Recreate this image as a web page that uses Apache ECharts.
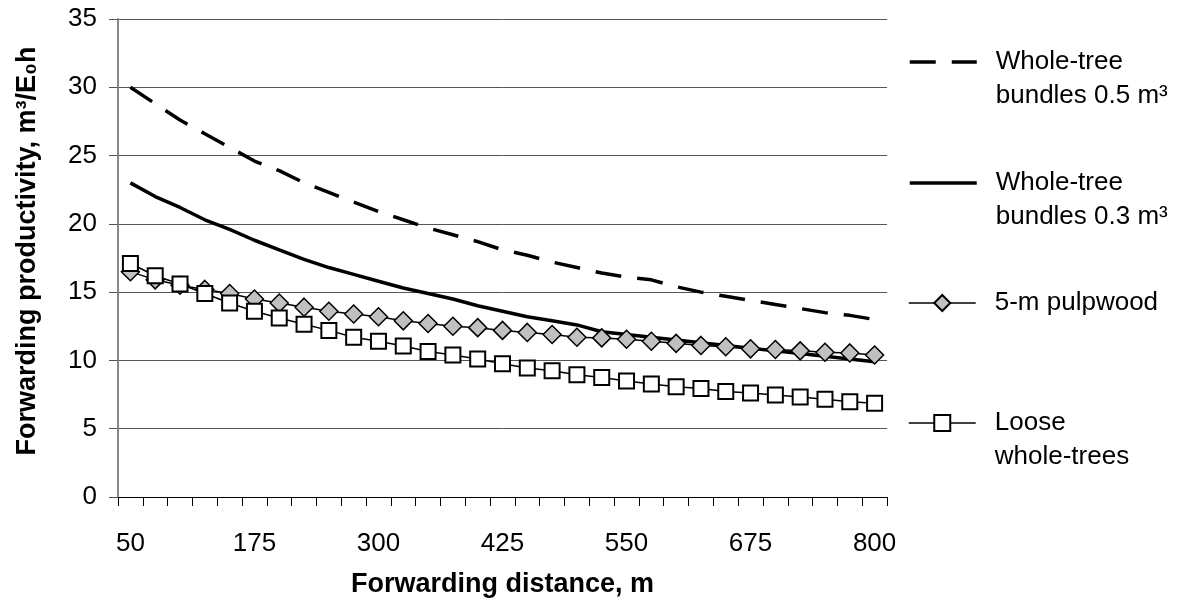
<!DOCTYPE html>
<html>
<head>
<meta charset="utf-8">
<script src="https://cdn.jsdelivr.net/npm/echarts@6/dist/echarts.min.js"></script>
<style>
html,body{margin:0;padding:0;background:#fff;}
#chart{width:1185px;height:608px;}
</style>
</head>
<body>
<div id="chart"></div>
<script>
var distances = ['50','75','100','125','150','175','200','225','250','275','300','325','350','375','400','425','450','475','500','525','550','575','600','625','650','675','700','725','750','775','800'];
var bundles05 = [30.0,28.8,27.6,26.6,25.6,24.6,23.9,23.0,22.3,21.6,20.9,20.3,19.7,19.2,18.7,18.1,17.7,17.2,16.8,16.4,16.1,15.9,15.4,15.0,14.7,14.4,14.1,13.8,13.5,13.3,13.0];
var bundles03 = [23.0,22.0,21.2,20.3,19.6,18.8,18.1,17.4,16.8,16.3,15.8,15.3,14.9,14.5,14.0,13.6,13.2,12.9,12.6,12.1,11.9,11.7,11.5,11.3,11.1,10.9,10.7,10.5,10.3,10.1,9.9];
var pulpwood = [16.5,15.9,15.5,15.2,14.9,14.5,14.2,13.9,13.6,13.4,13.2,12.9,12.7,12.5,12.4,12.2,12.05,11.9,11.7,11.65,11.55,11.4,11.25,11.1,11.0,10.85,10.8,10.7,10.6,10.55,10.4];
var looseTrees = [17.1,16.2,15.6,14.9,14.2,13.6,13.1,12.65,12.2,11.7,11.4,11.05,10.65,10.4,10.1,9.75,9.45,9.25,8.95,8.75,8.5,8.27,8.07,7.95,7.72,7.62,7.47,7.33,7.15,6.98,6.86];
var seriesNames = ['Whole-tree bundles 0.5 m³','Whole-tree bundles 0.3 m³','5-m pulpwood','Loose whole-trees'];
var legendTexts = ['\nWhole-tree\nbundles 0.5 m³','\nWhole-tree\nbundles 0.3 m³','5-m pulpwood','\nLoose\nwhole-trees'];
var xTitle = 'Forwarding distance, m';
var yTitle = 'Forwarding productivity, m³/E₀h';

var FONT = "'Liberation Sans', Arial, sans-serif";
var DASH = [26, 16];
var chart = echarts.init(document.getElementById('chart'), null, {renderer:'canvas'});

function legendFor(i, top, lineStyle, hideSymbol){
  var l = {
    left: 908, top: top, padding: 0, orient: 'vertical',
    itemWidth: 67, itemHeight: 20,
    data: [seriesNames[i]],
    formatter: function(){ return legendTexts[i]; },
    textStyle: {fontFamily: FONT, fontSize: 26, color: '#000', lineHeight: 34, padding: [0,0,0,14]},
    lineStyle: lineStyle,
    selectedMode: false
  };
  if (hideSymbol) l.itemStyle = {color: 'rgba(0,0,0,0)', borderWidth: 0, opacity: 0};
  return l;
}

var option = {
  animation: false,
  backgroundColor: '#fff',
  grid: {left: 118, right: 298, top: 19, bottom: 111},
  legend: [
    legendFor(0, 11, {width: 3.5, type: DASH, color: '#000'}, true),
    legendFor(1, 132, {width: 3.5, type: 'solid', color: '#000'}, true),
    legendFor(2, 286, {width: 1.5, color: '#000'}, false),
    legendFor(3, 372, {width: 1.5, color: '#000'}, false)
  ],
  xAxis: {
    type: 'category',
    data: distances,
    boundaryGap: true,
    name: xTitle,
    nameLocation: 'middle',
    nameGap: 74,
    nameTextStyle: {fontFamily: FONT, fontSize: 27, fontWeight: 'bold', color: '#000'},
    axisLine: {lineStyle: {color: '#000', width: 1}},
    axisTick: {show: true, interval: 0, length: 9, lineStyle: {color: '#000'}},
    axisLabel: {interval: 4, margin: 34, fontFamily: FONT, fontSize: 26, color: '#000'},
    splitLine: {show: false}
  },
  yAxis: {
    type: 'value',
    min: 0, max: 35, interval: 5,
    name: yTitle,
    nameLocation: 'middle',
    nameGap: 77,
    nameTextStyle: {fontFamily: FONT, fontSize: 27, fontWeight: 'bold', color: '#000', padding: [0, 0, 0, 14]},
    axisLine: {show: true, lineStyle: {color: '#888', width: 2}},
    axisTick: {show: true, length: 9, lineStyle: {color: '#555'}},
    axisLabel: {margin: 21, fontFamily: FONT, fontSize: 26, color: '#000'},
    splitLine: {show: true, lineStyle: {color: '#555', width: 1}}
  },
  series: [
    {name: seriesNames[0], type: 'line', data: bundles05, symbol: 'none',
     lineStyle: {color: '#000', width: 3.5, type: DASH}, itemStyle: {color: '#000'}},
    {name: seriesNames[1], type: 'line', data: bundles03, symbol: 'none',
     lineStyle: {color: '#000', width: 3.5}, itemStyle: {color: '#000'}},
    {name: seriesNames[2], type: 'line', data: pulpwood, symbol: 'diamond', symbolSize: 18,
     showAllSymbol: true,
     lineStyle: {color: '#000', width: 1.5},
     itemStyle: {color: '#c0c0c0', borderColor: '#000', borderWidth: 1.5}},
    {name: seriesNames[3], type: 'line', data: looseTrees, symbol: 'rect', symbolSize: 15,
     showAllSymbol: true,
     lineStyle: {color: '#000', width: 1.5},
     itemStyle: {color: '#fff', borderColor: '#000', borderWidth: 2}}
  ]
};
chart.setOption(option);
</script>
</body>
</html>
